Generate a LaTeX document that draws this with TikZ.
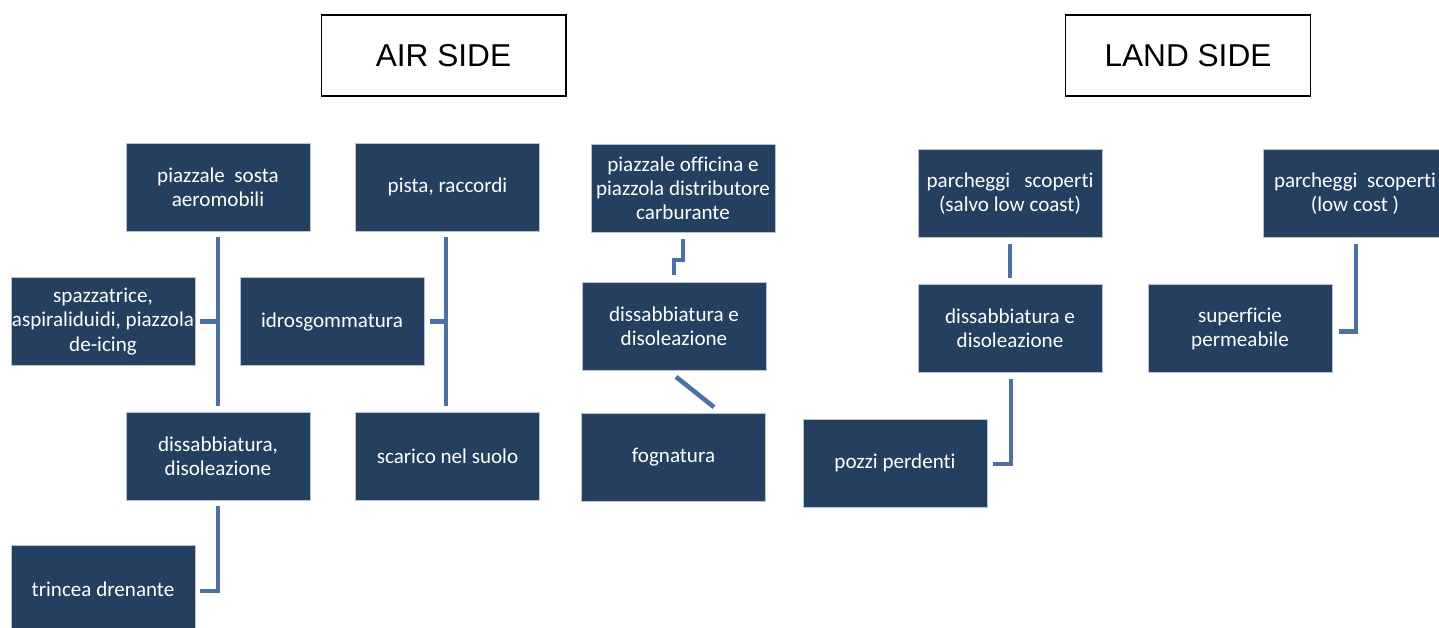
\documentclass[tikz,border=0pt]{standalone}
\usepackage{fontspec}
\setmainfont{Carlito}[Ligatures=NoCommon]
\newfontfamily\headfont{Liberation Sans}
\usetikzlibrary{calc}
\definecolor{cardfill}{HTML}{243F60}
\definecolor{cardedge}{HTML}{B8C4D4}
\definecolor{linkblue}{HTML}{4A71A8}
\definecolor{darkline}{HTML}{000000}
\tikzset{
  card/.style={rectangle, align=center, fill=cardfill, draw=cardedge, line width=0.4pt, text=white, inner sep=0pt, minimum width=3.68cm, minimum height=1.76cm, font=\fontsize{12}{13.7}\selectfont},
  sidetitle/.style={rectangle, draw=darkline, fill=white, line width=0.6pt, inner sep=0pt, minimum width=4.9cm, minimum height=1.62cm, font=\headfont\fontsize{18}{20}\selectfont},
  link/.style={draw=linkblue, line width=2.6pt},
}

\begin{document}
\begin{tikzpicture}[x=0.02cm, y=-0.02cm]
\useasboundingbox (0,0) rectangle (1439,628);

% ===== Titles =====
\node[sidetitle] (airside)  at (443.5,55.5)  {AIR SIDE};
\node[sidetitle] (landside) at (1188,55.5)   {LAND SIDE};

% ===== Air side =====
\node[card] (sosta)   at (218,187)   {piazzale~ sosta\\aeromobili};
\node[card] (pista)   at (447.5,187) {pista, raccordi};
\node[card] (spazz)   at (103,321.5) {spazzatrice,\\aspiraliduidi, piazzola\\de-icing};
\node[card] (idro)    at (332,321.5) {idrosgommatura};
\node[card] (disA)    at (218,456)   {dissabbiatura,\\disoleazione};
\node[card] (scarico) at (447.5,456) {scarico nel suolo};
\node[card] (trincea) at (103,589)   {trincea drenante};

% ===== Middle =====
\node[card] (officina) at (683,188.5) {piazzale officina e\\piazzola distributore\\carburante};
\node[card] (disM)     at (674,326.5) {dissabbiatura e\\disoleazione};
\node[card] (fogna)    at (673.5,457.5) {fognatura};

% ===== Land side =====
\node[card] (parkA) at (1010,193.5) {parcheggi~~ scoperti\\(salvo low coast)};
\node[card] (disR)  at (1010,328.5) {dissabbiatura e\\disoleazione};
\node[card] (pozzi) at (895,463)    {pozzi perdenti};
\node[card] (perm)  at (1240,328.5) {superficie\\permeabile};
\node[card] (parkB) at (1355,193.5) {parcheggi~ scoperti\\(low cost~)};

% ===== Links =====
\draw[link] ($(sosta.south)+(0,6)$) -- ($(disA.north)+(0,-6)$);
\draw[link] ($(spazz.east)+(5,0)$) -- (spazz.east -| sosta.south);
\draw[link] ($(pista.south)+(-1.5,6)$) -- ($(scarico.north)+(-1.5,-6)$);
\draw[link] ($(idro.east)+(6,0)$) -- ($(idro.east -| pista.south)+(-1.5,0)$);
\draw[link] ($(disA.south)+(0,6)$) |- ($(trincea.east)+(5,2)$);
\draw[link] ($(officina.south)+(0,6)$) -- ++(0,21) -| ($(disM.north)+(0,-7)$);
\draw[link] ($(disM.south)+(2,6)$) -- ($(fogna.north)+(40.5,-6)$);
\draw[link] ($(parkA.south)+(0,6)$) -- ($(disR.north)+(0,-6)$);
\draw[link] ($(disR.south)+(1,6)$) |- ($(pozzi.east)+(6,1)$);
\draw[link] ($(parkB.south)+(1,6)$) |- ($(perm.east)+(7,3)$);

\end{tikzpicture}
\end{document}
